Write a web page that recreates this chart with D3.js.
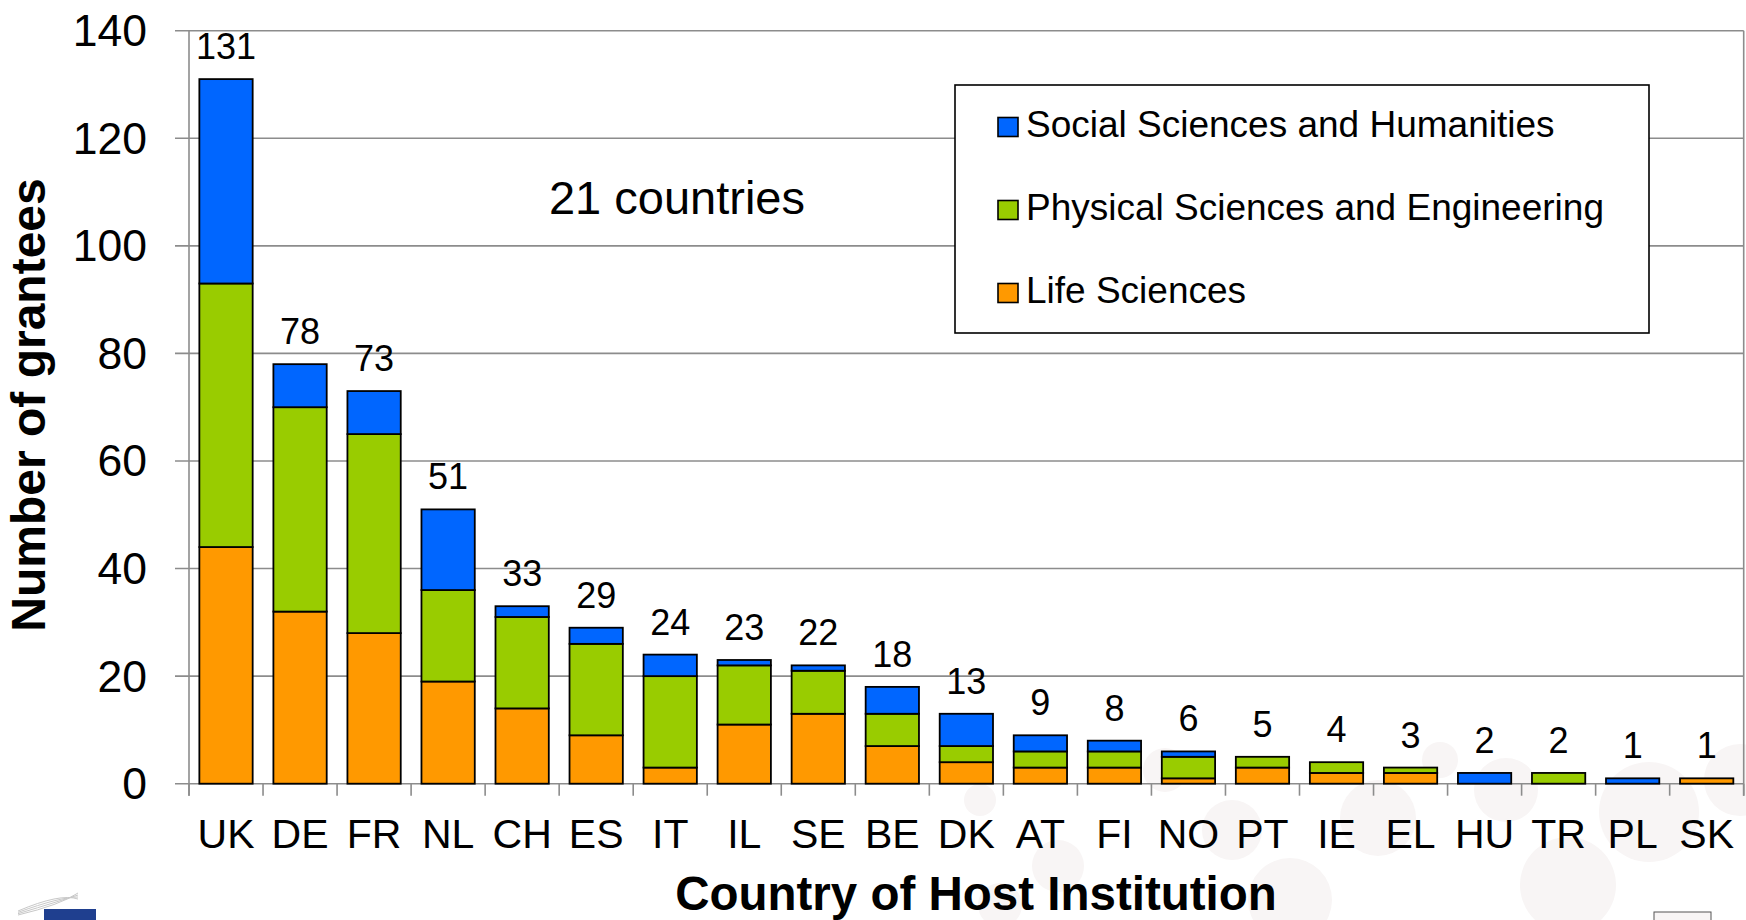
<!DOCTYPE html>
<html>
<head>
<meta charset="utf-8">
<script src="https://cdn.jsdelivr.net/npm/d3@7"></script>
<style>
  html, body { margin: 0; padding: 0; background: #ffffff; }
  svg { display: block; }
  text { font-family: "Liberation Sans", Arial, Helvetica, sans-serif; fill: #000; }
</style>
</head>
<body>
<svg id="chart" width="1746" height="920"></svg>
<script>
// ---- data ----
const countries = ["UK","DE","FR","NL","CH","ES","IT","IL","SE","BE","DK","AT","FI","NO","PT","IE","EL","HU","TR","PL","SK"];
const lifeSciences     = [44,32,28,19,14, 9, 3,11,13, 7, 4, 3, 3, 1, 3, 2, 2, 0, 0, 0, 1];
const physicalSciences = [49,38,37,17,17,17,17,11, 8, 6, 3, 3, 3, 4, 2, 2, 1, 0, 2, 0, 0];
const socialSciences   = [38, 8, 8,15, 2, 3, 4, 1, 1, 5, 6, 3, 2, 1, 0, 0, 0, 2, 0, 1, 0];
const seriesNames = ["Life Sciences", "Physical Sciences and Engineering", "Social Sciences and Humanities"];
const seriesColors = ["#FF9900", "#99CC00", "#0066FF"];
const yTicks = [0, 20, 40, 60, 80, 100, 120, 140];
const annotation = "21 countries";
const xTitle = "Country of Host Institution";
const yTitle = "Number of grantees";

(function () {
// ---- build table ----
const keys = ["ls", "pse", "ssh"];
const rows = countries.map((c, i) => ({
  country: c, ls: lifeSciences[i], pse: physicalSciences[i], ssh: socialSciences[i]
}));
const stacked = d3.stack().keys(keys)(rows);

const svg = d3.select("#chart");
const pLeft = 189, pRight = 1743.7, pTop = 30.7, pBottom = 783.7;

// very faint decorative background circles (slide background)
const bgCircles = [
  [980, 800, 16], [1058, 866, 26], [1000, 905, 22], [1165, 770, 22],
  [1232, 830, 30], [1290, 900, 42], [1378, 818, 38], [1440, 760, 18],
  [1506, 790, 32], [1568, 885, 48], [1649, 812, 50], [1740, 780, 36]
];
svg.append("g").selectAll("circle").data(bgCircles).join("circle")
  .attr("cx", d => d[0]).attr("cy", d => d[1]).attr("r", d => d[2])
  .attr("fill", "#f8f5f5");

const x = d3.scaleBand().domain(countries).range([pLeft, pRight])
  .paddingInner(0.28).paddingOuter(0.14);
const y = d3.scaleLinear().domain([0, 140]).range([pBottom, pTop]);

const gridColor = "#8c8c8c";

// gridlines
svg.append("g").selectAll("line").data(yTicks).join("line")
  .attr("x1", pLeft - 14).attr("x2", pRight)
  .attr("y1", d => y(d)).attr("y2", d => y(d))
  .attr("stroke", gridColor).attr("stroke-width", 1.6);

// axes lines
svg.append("line").attr("x1", pLeft).attr("x2", pLeft).attr("y1", pTop).attr("y2", pBottom + 12)
  .attr("stroke", gridColor).attr("stroke-width", 1.6);
svg.append("line").attr("x1", pRight).attr("x2", pRight).attr("y1", pTop).attr("y2", pBottom + 12)
  .attr("stroke", gridColor).attr("stroke-width", 1.6);

// x ticks at band boundaries
const xTickPos = d3.range(countries.length + 1).map(i => x.range()[0] + i * x.step());
svg.append("g").selectAll("line").data(xTickPos).join("line")
  .attr("x1", d => d).attr("x2", d => d)
  .attr("y1", pBottom).attr("y2", pBottom + 12)
  .attr("stroke", gridColor).attr("stroke-width", 1.6);

// y tick labels
svg.append("g").selectAll("text").data(yTicks).join("text")
  .attr("x", 147).attr("y", d => y(d) + 15.5)
  .attr("text-anchor", "end").attr("font-size", 44.5)
  .text(d => d);

// bars
const seg = svg.append("g");
stacked.forEach((layer, li) => {
  seg.append("g").selectAll("rect")
    .data(layer.filter(d => d[1] - d[0] > 0))
    .join("rect")
    .attr("x", d => x(d.data.country))
    .attr("width", x.bandwidth())
    .attr("y", d => y(d[1]))
    .attr("height", d => y(d[0]) - y(d[1]))
    .attr("fill", seriesColors[li])
    .attr("stroke", "#000").attr("stroke-width", 1.8);
});

// total labels
const totals = rows.map(r => r.ls + r.pse + r.ssh);
svg.append("g").selectAll("text").data(rows).join("text")
  .attr("x", (d) => x(d.country) + x.bandwidth() / 2)
  .attr("y", (d, i) => y(totals[i]) - 20)
  .attr("text-anchor", "middle").attr("font-size", 36)
  .text((d, i) => totals[i]);

// x tick labels
svg.append("g").selectAll("text").data(countries).join("text")
  .attr("x", d => x(d) + x.bandwidth() / 2)
  .attr("y", 848)
  .attr("text-anchor", "middle").attr("font-size", 41)
  .text(d => d);

// annotation
svg.append("text").attr("x", 677).attr("y", 214)
  .attr("text-anchor", "middle").attr("font-size", 47)
  .text(annotation);

// axis titles
svg.append("text").attr("x", 976).attr("y", 910)
  .attr("text-anchor", "middle").attr("font-size", 47.5).attr("font-weight", "bold")
  .text(xTitle);
svg.append("text")
  .attr("transform", "translate(45,405) rotate(-90)")
  .attr("text-anchor", "middle").attr("font-size", 48).attr("font-weight", "bold")
  .text(yTitle);

// legend
const lg = svg.append("g");
lg.append("rect").attr("x", 955).attr("y", 85).attr("width", 694).attr("height", 248)
  .attr("fill", "#fff").attr("stroke", "#000").attr("stroke-width", 1.6);
const legendOrder = [2, 1, 0];
legendOrder.forEach((si, k) => {
  const cy = 127 + k * 83;
  lg.append("rect").attr("x", 998).attr("y", cy - 9.5).attr("width", 20).attr("height", 19)
    .attr("fill", seriesColors[si]).attr("stroke", "#000").attr("stroke-width", 1.6);
  lg.append("text").attr("x", 1026).attr("y", cy + 9.5)
    .attr("font-size", 37).text(seriesNames[si]);
});

// footer decorations (slide logo & page box)
const ft = svg.append("g");
[0, 4, 8, 12].forEach(o => {
  ft.append("path").attr("d", `M18 ${915 - o/3} Q60 ${905 - o} 78 ${893 + o/2}`)
    .attr("fill", "none").attr("stroke", "#c8c8c8").attr("stroke-width", 1);
});
ft.append("rect").attr("x", 44).attr("y", 909).attr("width", 52).attr("height", 11).attr("fill", "#1f3f8f");
ft.append("rect").attr("x", 1654).attr("y", 912).attr("width", 57).attr("height", 12)
  .attr("fill", "#f8f5f5").attr("stroke", "#555").attr("stroke-width", 1);
})();
</script>
</body>
</html>
